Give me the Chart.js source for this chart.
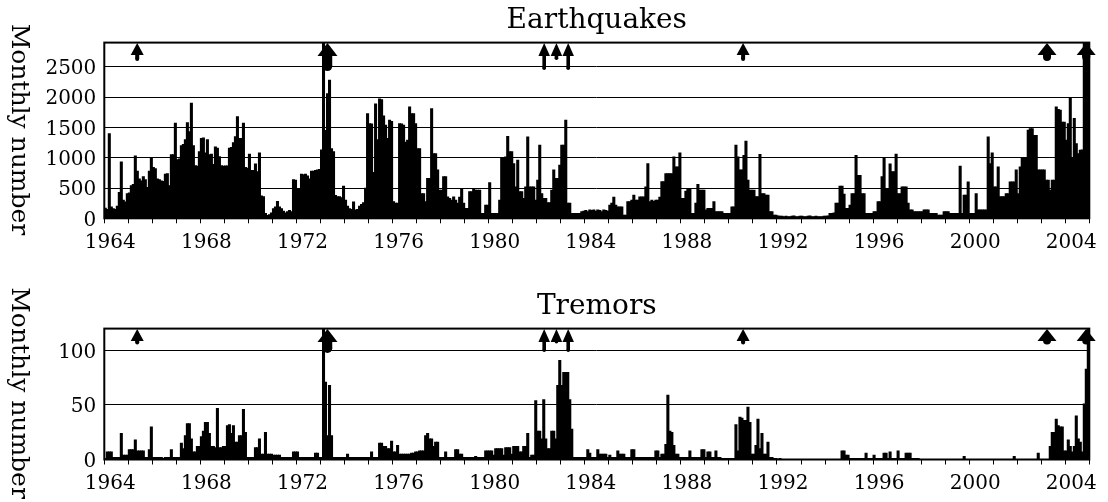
<!DOCTYPE html>
<html>
<head>
<meta charset="utf-8">
<script src="https://cdn.jsdelivr.net/npm/chart.js@4.4.1/dist/chart.umd.min.js"></script>
<style>
html,body{margin:0;padding:0;background:#fff;width:1108px;height:502px;overflow:hidden}
.box{position:absolute;left:0;width:1108px}
#b1{top:0;height:250px}
#b2{top:286px;height:216px}
canvas{display:block}
</style>
</head>
<body>
<div class="box" id="b1"><canvas id="c1"></canvas></div>
<div class="box" id="b2"><canvas id="c2"></canvas></div>
<script>
// ---------- DATA ----------
const firstYear = 1964;
const lastYear = 2005;            // axis end (end of Dec 2004)
const labeledYears = [1964, 1968, 1972, 1976, 1980, 1984, 1988, 1992, 1996, 2000, 2004];
const quakeTicks = [0, 500, 1000, 1500, 2000, 2500];
const tremorTicks = [0, 50, 100];

// Monthly earthquake counts (Jan..Dec per row)
const quakes1960s = [
  170, 150, 1400, 190, 160, 150, 200, 430, 930, 300, 270, 410,
  420, 540, 560, 1030, 780, 650, 620, 690, 640, 510, 780, 1000,
  840, 820, 650, 640, 620, 610, 730, 740, 540, 1050, 1050, 1570,
  970, 980, 1200, 1220, 1300, 1580, 1430, 1900, 1200, 870, 860, 1100,
  1320, 1330, 1080, 1300, 1050, 1060, 890, 1180, 1160, 1020, 870, 860,
  865, 865, 1160, 1170, 1250, 1350, 1680, 1320, 1320, 1570, 840, 830
];
const quakes1970s = [
  1060, 790, 790, 900, 770, 1080, 370, 360, 80, 50, 60, 90,
  160, 190, 280, 190, 160, 120, 90, 110, 130, 110, 640, 630,
  490, 480, 730, 720, 730, 700, 650, 780, 780, 790, 800, 810,
  1130, 2950, 1450, 2060, 2280, 1150, 1100, 380, 360, 360, 340, 530,
  300, 200, 160, 150, 270, 140, 150, 200, 230, 260, 500, 1730,
  1565, 1560, 760, 1890, 1300, 1970, 1960, 1690, 1540, 1320, 1620, 1600,
  275, 250, 250, 1565, 1560, 1540, 1260, 1290, 1840, 1730, 1730, 1565,
  1150, 1150, 410, 410, 275, 660, 660, 1810, 1070, 1070, 800, 465,
  465, 690, 690, 355, 330, 300, 355, 300, 250, 350, 480, 250,
  165, 165, 440, 440, 495, 465, 465, 465, 80, 80, 220, 220
];
const quakes1980s = [
  590, 80, 80, 80, 80, 300, 990, 990, 1015, 1355, 1100, 1100,
  905, 520, 960, 440, 440, 330, 520, 1345, 520, 520, 520, 300,
  630, 1210, 410, 330, 330, 260, 260, 465, 800, 660, 660, 880,
  1210, 1210, 1620, 250, 250, 80, 80, 80, 80, 80, 110, 120,
  130, 110, 140, 130, 140, 120, 140, 130, 110, 140, 130, 120,
  220, 250, 350, 220, 190, 190, 190, 55, 55, 275, 275, 300,
  385, 300, 300, 355, 355, 355, 520, 905, 275, 300, 280, 300,
  300, 350, 605, 605, 740, 740, 740, 740, 1015, 850, 850, 1080,
  330, 330, 450, 480, 480, 80, 80, 250, 560, 465, 465, 465,
  140, 165, 165, 165, 275, 110, 110, 110, 110, 80, 80, 80
];
const quakes1990s = [
  80, 190, 190, 1210, 1015, 800, 800, 1040, 1275, 630, 465, 465,
  465, 360, 360, 1055, 410, 410, 385, 385, 110, 110, 55, 55,
  40, 35, 35, 30, 35, 30, 30, 35, 40, 30, 30, 35,
  35, 30, 30, 35, 40, 30, 30, 35, 30, 30, 30, 35,
  35, 40, 80, 80, 90, 250, 250, 530, 530, 400, 165, 165,
  220, 410, 410, 1040, 710, 710, 410, 410, 80, 80, 80, 80,
  110, 110, 275, 275, 690, 1005, 490, 490, 900, 770, 770, 1060,
  410, 410, 520, 520, 520, 250, 140, 140, 110, 110, 110, 110,
  110, 140, 140, 140, 80, 80, 80, 80, 55, 55, 55, 110,
  110, 110, 80, 80, 80, 80, 80, 860, 80, 385, 385, 600
];
const quakes2000s = [
  80, 80, 80, 410, 140, 140, 140, 140, 140, 1345, 905, 1080,
  520, 520, 850, 360, 360, 360, 410, 410, 600, 600, 600, 800,
  410, 850, 990, 990, 990, 1455, 1480, 1480, 1370, 1370, 800, 800,
  800, 800, 630, 630, 465, 630, 630, 1840, 1800, 1785, 1590, 1590,
  1290, 1565, 1990, 990, 1650, 1235, 1070, 1125, 1130, 3000, 3000, 3000
];

// Monthly tremor counts
const tremors1960s = [
  1, 7, 7, 7, 2, 2, 2, 2, 24, 4, 4, 4,
  9, 9, 9, 18, 8, 8, 8, 8, 2, 2, 9, 30,
  2, 2, 2, 2, 2, 1, 2, 2, 2, 9, 2, 2,
  2, 2, 15, 10, 22, 33, 33, 19, 7, 7, 12, 12,
  21, 26, 34, 34, 24, 12, 12, 11, 47, 11, 11, 12,
  12, 31, 32, 24, 31, 16, 16, 22, 22, 46, 25, 2
];
const tremors1970s = [
  2, 2, 2, 11, 11, 19, 5, 5, 25, 5, 5, 5,
  4, 4, 4, 4, 2, 2, 2, 2, 2, 2, 7, 7,
  7, 2, 2, 2, 2, 2, 2, 2, 2, 6, 6, 2,
  2, 130, 71, 22, 68, 22, 2, 2, 2, 2, 2, 2,
  2, 5, 2, 2, 2, 2, 2, 2, 2, 2, 2, 2,
  2, 7, 2, 2, 2, 15, 15, 12, 12, 10, 10, 17,
  7, 7, 13, 5, 5, 5, 5, 5, 5, 6, 6, 7,
  7, 8, 8, 8, 22, 24, 19, 19, 12, 16, 16, 2,
  2, 2, 7, 2, 2, 2, 2, 9, 9, 5, 5, 2,
  2, 2, 2, 2, 2, 3, 2, 2, 2, 2, 8, 8
];
const tremors1980s = [
  8, 8, 4, 10, 10, 10, 10, 4, 11, 11, 11, 5,
  12, 12, 12, 7, 7, 12, 12, 24, 2, 4, 4, 54,
  26, 26, 19, 55, 19, 10, 10, 26, 26, 19, 68, 91,
  68, 80, 80, 80, 55, 28, 2, 2, 2, 2, 2, 2,
  2, 9, 6, 2, 2, 2, 9, 5, 5, 5, 5, 2,
  4, 2, 2, 2, 8, 5, 5, 5, 2, 2, 2, 9,
  9, 2, 2, 2, 2, 2, 2, 2, 2, 2, 2, 8,
  8, 2, 5, 5, 14, 59, 26, 25, 13, 5, 5, 2,
  2, 2, 2, 2, 8, 2, 2, 2, 2, 2, 9, 9,
  2, 7, 7, 2, 2, 8, 2, 2, 1, 1, 1, 1
];
const tremors1990s = [
  1, 1, 1, 32, 8, 39, 38, 36, 36, 48, 34, 5,
  5, 13, 37, 10, 24, 5, 5, 16, 2, 2, 1, 1,
  0, 1, 0, 0, 0, 0, 0, 0, 0, 0, 0, 0,
  0, 0, 0, 0, 0, 0, 0, 0, 0, 0, 0, 0,
  0, 0, 0, 0, 0, 0, 0, 0, 8, 8, 4, 4,
  1, 1, 1, 1, 1, 1, 1, 1, 6, 1, 1, 1,
  4, 1, 1, 1, 1, 6, 6, 1, 7, 1, 1, 1,
  8, 1, 1, 1, 6, 6, 6, 1, 1, 1, 1, 0,
  0, 0, 0, 0, 0, 0, 0, 0, 0, 0, 0, 0,
  0, 0, 0, 0, 0, 0, 0, 0, 0, 3, 0, 0
];
const tremors2000s = [
  0, 0, 0, 0, 0, 0, 0, 0, 0, 0, 0, 0,
  0, 0, 0, 0, 0, 0, 0, 0, 0, 0, 3, 0,
  0, 0, 0, 0, 0, 0, 0, 0, 0, 0, 6, 0,
  0, 0, 0, 0, 12, 25, 25, 37, 31, 30, 30, 8,
  8, 18, 12, 7, 12, 40, 19, 16, 7, 51, 83, 130
];

// Eruptions (decimal year) and arrow kind
const eruptionDates = [1965.37, 1973.29, 1982.31, 1982.82, 1983.31, 1990.59, 2003.24, 2004.87];
const eruptionKinds = ['small', 'large', 'thin', 'thinShort', 'thin', 'small', 'largeShort', 'largeShort'];

// ---------- CHART ----------
const quakeCounts = [].concat(quakes1960s, quakes1970s, quakes1980s, quakes1990s, quakes2000s);
const tremorCounts = [].concat(tremors1960s, tremors1970s, tremors1980s, tremors1990s, tremors2000s);

const FONT = 'DejaVu Serif';

const arrowStyles = {
  small:      { head: 13, headH: 12, shaft: 4,   len: 18 },
  large:      { head: 20, headH: 13, shaft: 9.5, len: 28 },
  thin:       { head: 11.5, headH: 13, shaft: 3.6, len: 27 },
  thinShort:  { head: 11.5, headH: 13, shaft: 3.6, len: 17 },
  largeShort: { head: 19, headH: 12, shaft: 8,   len: 18 }
};

const framePlugin = {
  id: 'frame',
  afterDraw(chart, args, opts) {
    const { ctx, chartArea: a } = chart;
    const xs = chart.scales.x;
    ctx.save();
    ctx.fillStyle = '#000';
    eruptionDates.forEach((yr, i) => {
      const st = arrowStyles[eruptionKinds[i]];
      const len = st.len * (opts.lenScale || 1);
      const cx = xs.getPixelForValue(yr);
      const top = a.top + 0.5;
      ctx.beginPath();
      ctx.moveTo(cx, top);
      ctx.lineTo(cx + st.head / 2, top + st.headH);
      ctx.lineTo(cx - st.head / 2, top + st.headH);
      ctx.closePath();
      ctx.fill();
      const r = st.shaft / 2;
      ctx.fillRect(cx - r, top + st.headH - 1, st.shaft, len - st.headH - r + 1);
      ctx.beginPath();
      ctx.arc(cx, top + len - r, r, 0, Math.PI * 2);
      ctx.fill();
    });
    ctx.lineWidth = 2;
    ctx.strokeStyle = '#000';
    ctx.strokeRect(a.left, a.top, a.right - a.left, a.bottom - a.top);
    ctx.translate(11.7, (a.top + a.bottom) / 2 - 1);
    ctx.rotate(Math.PI / 2);
    ctx.font = '25px "' + FONT + '"';
    ctx.textAlign = 'center';
    ctx.textBaseline = 'alphabetic';
    ctx.fillText('Monthly number', 0, 0);
    ctx.restore();
  }
};

function makeChart(canvasId, title, counts, yMax, yTicks, xAxisHeight, lenScale) {
  const points = counts.map((v, i) => ({ x: firstYear + (i + 0.5) / 12, y: v }));
  return new Chart(document.getElementById(canvasId), {
    type: 'bar',
    data: {
      datasets: [{
        data: points,
        backgroundColor: '#000',
        borderWidth: 0,
        barThickness: 2.4,
        grouped: false
      }]
    },
    options: {
      responsive: true,
      maintainAspectRatio: false,
      animation: false,
      devicePixelRatio: 1,
      events: [],
      layout: { padding: { left: 0, right: 18.7, top: 0, bottom: 0 } },
      plugins: {
        legend: { display: false },
        tooltip: { enabled: false },
        title: {
          display: true,
          text: title,
          fullSize: false,
          color: '#000',
          font: { family: FONT, size: 28, weight: 'normal' },
          padding: { top: 4, bottom: 5 }
        },
        frame: { lenScale: lenScale }
      },
      scales: {
        x: {
          type: 'linear',
          min: firstYear,
          max: lastYear,
          offset: false,
          grid: { drawOnChartArea: false, drawTicks: true, tickLength: 5, color: '#000', lineWidth: 1, offset: false },
          border: { display: false },
          ticks: {
            stepSize: 1,
            autoSkip: false,
            maxRotation: 0,
            minRotation: 0,
            labelOffset: 6,
            padding: 7,
            color: '#000',
            font: { family: FONT, size: 20 },
            callback: v => labeledYears.includes(v) ? String(v) : ''
          },
          afterFit: s => { s.height = xAxisHeight; }
        },
        y: {
          min: 0,
          max: yMax,
          afterBuildTicks: s => { s.ticks = yTicks.map(v => ({ value: v })); },
          grid: { color: '#000', lineWidth: 1, drawTicks: false },
          border: { display: false },
          ticks: {
            padding: 8,
            labelOffset: 2,
            color: '#000',
            font: { family: FONT, size: 20 },
            callback: v => String(v)
          },
          afterFit: s => { s.width = 104.3; }
        }
      }
    },
    plugins: [framePlugin]
  });
}

makeChart('c1', 'Earthquakes', quakeCounts, 2900, quakeTicks, 31.7, 1);
makeChart('c2', 'Tremors', tremorCounts, 120, tremorTicks, 42.5, 0.85);
</script>
</body>
</html>
